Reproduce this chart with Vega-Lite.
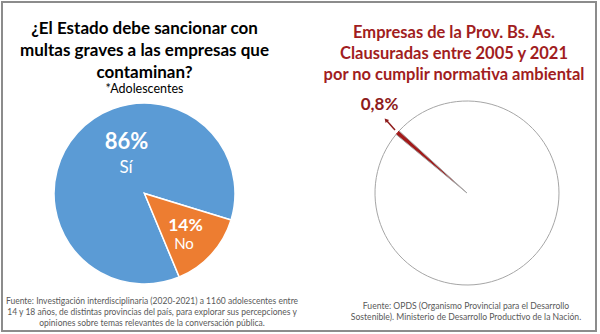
{
  "$schema": "https://vega.github.io/schema/vega-lite/v6.json",
  "autosize": {"type": "fit", "contains": "padding"},
  "width": 600,
  "height": 334,
  "padding": {"left": 2, "top": 2, "right": 4, "bottom": 3},
  "background": "white",
  "config": {
    "view": {"stroke": "#8c8c8c", "strokeWidth": 2},
    "font": "Lato",
    "text": {"font": "Lato"}
  },
  "datasets": {
    "encuesta": [
      {"respuesta": "Sí", "porcentaje": 86},
      {"respuesta": "No", "porcentaje": 14}
    ],
    "empresas": [
      {"estado": "Clausuradas", "porcentaje": 0.8},
      {"estado": "No clausuradas", "porcentaje": 99.2}
    ],
    "uno": [{}]
  },
  "data": {"name": "uno"},
  "resolve": {"scale": {"theta": "independent", "fill": "independent", "stroke": "independent"}},
  "layer": [
    {
      "data": {"name": "encuesta"},
      "mark": {"type": "arc", "outerRadius": 90.5, "stroke": "white", "strokeWidth": 1.5},
      "encoding": {
        "x": {"datum": 144.5, "type": "quantitative", "scale": {"domain": [2, 596], "nice": false, "zero": false}, "axis": null},
        "y": {"datum": 193.5, "type": "quantitative", "scale": {"domain": [2, 331], "reverse": true, "nice": false, "zero": false}, "axis": null},
        "theta": {"field": "porcentaje", "type": "quantitative", "stack": true, "scale": {"range": [1.868, 8.151]}},
        "order": {"field": "respuesta", "sort": "ascending"},
        "fill": {"field": "respuesta", "type": "nominal", "scale": {"domain": ["Sí", "No"], "range": ["#5b9bd5", "#ed7d31"]}, "legend": null}
      }
    },
    {
      "data": {"name": "empresas"},
      "mark": {"type": "arc", "outerRadius": 92, "strokeWidth": 1},
      "encoding": {
        "x": {"datum": 467, "type": "quantitative"},
        "y": {"datum": 193, "type": "quantitative"},
        "theta": {"field": "porcentaje", "type": "quantitative", "stack": true, "scale": {"range": [5.403, 11.686]}},
        "order": {"field": "estado", "sort": "ascending"},
        "fill": {"field": "estado", "type": "nominal", "scale": {"domain": ["Clausuradas", "No clausuradas"], "range": ["#a31a1a", "#ffffff"]}, "legend": null},
        "stroke": {"field": "estado", "type": "nominal", "scale": {"domain": ["Clausuradas", "No clausuradas"], "range": ["#a31a1a", "#a6a6a6"]}, "legend": null}
      }
    },
    {
      "mark": {"type": "text", "fontSize": 17, "fontWeight": "bold", "color": "#000000", "align": "center", "baseline": "middle", "lineHeight": 22},
      "encoding": {
        "x": {"datum": 144.5, "type": "quantitative"},
        "y": {"datum": 29, "type": "quantitative"},
        "text": {"value": ["¿El Estado debe sancionar con", "multas graves a las empresas que", "contaminan?"]}
      }
    },
    {
      "mark": {"type": "text", "fontSize": 12.5, "color": "#000000", "align": "center", "baseline": "middle"},
      "encoding": {
        "x": {"datum": 144.5, "type": "quantitative"},
        "y": {"datum": 89, "type": "quantitative"},
        "text": {"value": "*Adolescentes"}
      }
    },
    {
      "mark": {"type": "text", "fontSize": 22, "fontWeight": "bold", "color": "#ffffff", "align": "center", "baseline": "middle"},
      "encoding": {
        "x": {"datum": 126.5, "type": "quantitative"},
        "y": {"datum": 142, "type": "quantitative"},
        "text": {"value": "86%"}
      }
    },
    {
      "mark": {"type": "text", "fontSize": 17, "color": "#ffffff", "align": "center", "baseline": "middle"},
      "encoding": {
        "x": {"datum": 126, "type": "quantitative"},
        "y": {"datum": 168, "type": "quantitative"},
        "text": {"value": "Sí"}
      }
    },
    {
      "mark": {"type": "text", "fontSize": 17.5, "fontWeight": "bold", "color": "#ffffff", "align": "center", "baseline": "middle"},
      "encoding": {
        "x": {"datum": 185.5, "type": "quantitative"},
        "y": {"datum": 225.5, "type": "quantitative"},
        "text": {"value": "14%"}
      }
    },
    {
      "mark": {"type": "text", "fontSize": 15, "color": "#ffffff", "align": "center", "baseline": "middle"},
      "encoding": {
        "x": {"datum": 184, "type": "quantitative"},
        "y": {"datum": 243.5, "type": "quantitative"},
        "text": {"value": "No"}
      }
    },
    {
      "mark": {"type": "text", "fontSize": 8.5, "color": "#595959", "align": "center", "baseline": "middle", "lineHeight": 11},
      "encoding": {
        "x": {"datum": 152, "type": "quantitative"},
        "y": {"datum": 301, "type": "quantitative"},
        "text": {"value": ["Fuente: Investigación interdisciplinaria (2020-2021) a 1160 adolescentes entre", "14 y 18 años, de distintas provincias del país, para explorar sus percepciones y", "opiniones sobre temas relevantes de la conversación pública."]}
      }
    },
    {
      "mark": {"type": "text", "fontSize": 16.5, "fontWeight": "bold", "color": "#a11d21", "align": "center", "baseline": "middle", "lineHeight": 21},
      "encoding": {
        "x": {"datum": 454, "type": "quantitative"},
        "y": {"datum": 33, "type": "quantitative"},
        "text": {"value": ["Empresas de la Prov. Bs. As.", "Clausuradas entre 2005 y 2021", "por no cumplir normativa ambiental"]}
      }
    },
    {
      "mark": {"type": "text", "fontSize": 17, "fontWeight": "bold", "color": "#8e1b1b", "align": "center", "baseline": "middle"},
      "encoding": {
        "x": {"datum": 379.5, "type": "quantitative"},
        "y": {"datum": 104.5, "type": "quantitative"},
        "text": {"value": "0,8%"}
      }
    },
    {
      "mark": {"type": "rule", "color": "#8e1b1b", "strokeWidth": 1.5},
      "encoding": {
        "x": {"datum": 395, "type": "quantitative"},
        "y": {"datum": 130, "type": "quantitative"},
        "x2": {"datum": 387},
        "y2": {"datum": 121}
      }
    },
    {
      "mark": {"type": "point", "shape": "triangle-up", "filled": true, "color": "#8e1b1b", "size": 22, "angle": 318, "opacity": 1},
      "encoding": {
        "x": {"datum": 386, "type": "quantitative"},
        "y": {"datum": 120, "type": "quantitative"}
      }
    },
    {
      "mark": {"type": "text", "fontSize": 8.6, "color": "#595959", "align": "center", "baseline": "middle", "lineHeight": 10.5},
      "encoding": {
        "x": {"datum": 466, "type": "quantitative"},
        "y": {"datum": 306, "type": "quantitative"},
        "text": {"value": ["Fuente: OPDS (Organismo Provincial para el Desarrollo", "Sostenible). Ministerio de Desarrollo Productivo de la Nación."]}
      }
    }
  ]
}
